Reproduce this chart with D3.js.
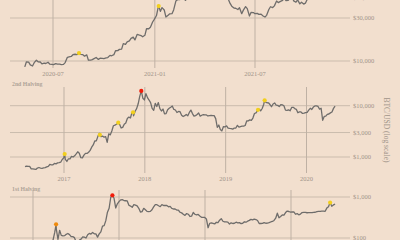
<!DOCTYPE html>
<html><head><meta charset="utf-8">
<script src="https://cdn.jsdelivr.net/npm/d3@7"></script>
<style>
html,body{margin:0;padding:0;background:#f2dfce;}
svg{display:block;}
</style></head>
<body>
<svg id="chart" width="400" height="240"></svg>
<script>
// ---------- DATA ----------
// Panel 1 (3rd halving): twice-weekly samples (Mon/Thu) starting 2020-05-11
const p1Start = "2020-05-11";
const p1Values = [8600,9800,9700,9050,8800,9580,10200,9800,9750,9300,9450,9380,9680,9250,9190,9100,9350,9250,9250,9130,9160,9600,11000,11100,11230,11750,11880,11760,12250,11850,11750,11320,11680,10200,10250,10350,10680,10950,10420,10740,10700,10620,10800,10930,11550,11430,11750,12990,13030,13460,13550,15590,15310,16300,16720,17800,18400,17150,19700,19450,19170,18550,19270,22800,22800,23700,27080,29000,31970,39400,35500,39150,36800,30800,32250,33400,33500,36900,46200,47900,47900,51600,54100,47000,49600,48400,52400,57300,56000,57600,54500,52300,57600,58700,58700,58000,59800,63200,55700,51700,54000,53500,56600,56400,55800,49700,43500,40600,38700,38500,37300,39000,33500,36700,40100,38100,31600,34700,34500,33500,33800,32900,33100,31800,30800,32100,37300,40000,39200,40900,46300,44400,45900,46700,49300,46900,47100,49300,51700,46400,44900,47700,43000,44900,42800,43800,49200];
// Panel 2 (2nd halving): weekly samples starting 2016-07-09
const p2Start = "2016-07-09";
const p2Values = [650,665,655,655,588,585,581,573,610,624,608,602,613,619,640,657,715,704,704,750,735,767,774,791,893,963,895,818,923,919,1030,1000,1055,1150,1265,1180,970,965,1085,1180,1175,1240,1345,1550,1720,2050,2060,2520,2890,2500,2560,2430,2500,1930,2830,2700,3220,4060,4190,4350,4580,4330,3680,3780,4340,4600,5650,6000,5750,7400,6360,7790,8750,10900,15200,19400,14000,12950,17170,14360,12900,11470,8870,8130,11100,9660,11500,8790,7890,8600,6930,7020,8330,8930,9350,9850,8470,8240,7360,7720,7620,6530,6160,6390,6740,6350,7400,8200,7030,6280,6400,6720,7200,6250,6520,6710,6630,6600,6300,6420,6480,6380,6400,5600,3800,4200,3420,3230,3920,3850,4050,3650,3600,3570,3500,3670,3670,4140,3830,3920,4000,3990,4110,5030,5070,5300,5190,5750,7040,7260,8050,8550,7950,8820,10700,11850,11420,11390,10530,9550,10820,11290,10230,10140,9630,10500,10360,9990,8200,8100,8320,7960,9250,9300,8800,8500,7300,7560,7550,7070,7140,7300,7410,8180,8900,8440,9390,9900,9930,9660,8560,8910,5200,6190,6240,6780,6890,7250,7550,8870,9800];
// Panel 3 (1st halving): weekly samples starting 2012-11-28
const p3Start = "2012-11-28";
const p3Values = [12.3,13.3,13.6,13.3,13.4,13.4,13.8,14.7,17.4,19.7,21,24.8,29.4,31,44,47,64,89,135,165,93,154,116,113,114,123,129,121,108,108,102,80,76,89,94,106,105,100,120,129,125,137,127,126,105,126,141,195,200,265,425,530,985,1100,930,540,680,770,850,860,820,810,800,630,600,560,650,635,605,530,430,440,530,490,445,440,445,490,575,655,650,610,580,650,620,620,620,575,590,530,510,510,480,480,425,410,380,355,395,380,335,340,420,380,365,375,345,320,320,317,292,178,228,233,227,220,242,237,272,296,256,247,247,245,219,235,226,229,243,234,237,225,229,249,243,257,269,285,277,289,282,267,226,226,228,238,229,231,236,246,253,268,304,403,311,334,366,360,417,454,443,427,431,432,380,395,368,382,417,424,423,413,416,418,415,422,425,442,447,446,452,453,448,536,580,730,595,640,670];

// Highlighted points
const p1DotDates = ["2020-08-17","2021-01-08"];
const p1DotValues = [12250,40700];
const p1DotKinds = ["high","high"];
const p2DotDates = ["2017-01-04","2017-06-12","2017-09-03","2017-11-09","2017-12-16","2019-05-27","2019-06-26"];
const p2DotValues = [1144,2700,4660,7430,19400,8300,12700];
const p2DotKinds = ["high","high","high","high","peak","high","high"];
const p3DotDates = ["2013-04-09","2013-12-04","2016-06-15"];
const p3DotValues = [215,1100,730];
const p3DotKinds = ["spike","peak","high"];

// Axis ticks (panel 3 labels fall below the visible area, so none are drawn)
const p1Ticks = ["2020-07-01","2021-01-01","2021-07-01"];
const p1TickLabels = ["2020-07","2021-01","2021-07"];
const p2Ticks = ["2017-01-01","2018-01-01","2019-01-01","2020-01-01"];
const p2TickLabels = ["2017","2018","2019","2020"];
const p3Ticks = ["2013-01-01","2014-01-01","2015-01-01","2016-01-01"];
const p3TickLabels = [];
const p1Grid = [10000,30000,50000];
const p2Grid = [1000,3000,10000];
const p3Grid = [100,1000];
const titles = ["", "2nd Halving", "1st Halving"];

// ---------- BUILD ----------
const parse = d3.utcParse("%Y-%m-%d");
const fmt = d3.format("$,");

function series(start, values, stepFn) {
  const s = parse(start);
  return values.map((v,i)=>({date: d3.utcDay.offset(s, stepFn(i)), value: v}));
}
function dots(dates, values, kinds){
  return dates.map((d,i)=>({date: parse(d), value: values[i], kind: kinds[i]}));
}

const panels = [
  { data: series(p1Start, p1Values, i=>Math.floor(i/2)*7 + (i%2)*3),
    dots: dots(p1DotDates,p1DotValues,p1DotKinds),
    x: d3.scaleUtc().domain([parse("2020-07-01"), parse("2021-07-01")]).range([53,255]),
    y: d3.scaleLog().domain([10000,30000]).range([61,18]),
    ticks: p1Ticks, tickLabels: p1TickLabels, grid: p1Grid,
    vTop: -5, vBottom: 68, labelY: 74, title: titles[0], titleY: 0 },
  { data: series(p2Start, p2Values, i=>i*7),
    dots: dots(p2DotDates,p2DotValues,p2DotKinds),
    x: d3.scaleUtc().domain([parse("2017-01-01"), parse("2020-01-01")]).range([64,306.5]),
    y: d3.scaleLog().domain([1000,10000]).range([157,105.7]),
    ticks: p2Ticks, tickLabels: p2TickLabels, grid: p2Grid,
    vTop: 87, vBottom: 173, labelY: 179, title: titles[1], titleY: 85.5 },
  { data: series(p3Start, p3Values, i=>i*7),
    dots: dots(p3DotDates,p3DotValues,p3DotKinds),
    x: d3.scaleUtc().domain([parse("2013-01-01"), parse("2016-01-01")]).range([33,291]),
    y: d3.scaleLog().domain([100,1000]).range([238,197]),
    ticks: p3Ticks, tickLabels: p3TickLabels, grid: p3Grid,
    vTop: 190, vBottom: 245, labelY: 266, title: titles[2], titleY: 190.5 }
];

const svg = d3.select("#chart");
svg.append("rect").attr("width",400).attr("height",240).attr("fill","#f2dfce");

const textColor = "#a19489";
const font = "'Liberation Serif', 'DejaVu Serif', serif";
const dotColor = {high:"#f2cf1d", peak:"#f01c0a", spike:"#ef8a0c"};

panels.forEach(p=>{
  const g = svg.append("g");
  g.selectAll("line.h").data(p.grid).join("line")
    .attr("x1",10).attr("x2",350)
    .attr("y1",d=>p.y(d)).attr("y2",d=>p.y(d))
    .attr("stroke","#cbbcad").attr("stroke-width",1);
  g.selectAll("text.yl").data(p.grid).join("text")
    .attr("x",353).attr("y",d=>p.y(d)).attr("dy","0.35em")
    .attr("font-family",font).attr("font-size",6.5).attr("fill",textColor)
    .text(d=>fmt(d));
  const tks = p.ticks.map(parse);
  g.selectAll("line.v").data(tks).join("line")
    .attr("x1",d=>p.x(d)).attr("x2",d=>p.x(d))
    .attr("y1",p.vTop).attr("y2",p.vBottom)
    .attr("stroke","#bfb1a4").attr("stroke-width",1);
  g.selectAll("text.xl").data(tks.filter((d,i)=>p.tickLabels[i])).join("text")
    .attr("x",d=>p.x(d)).attr("y",p.labelY).attr("dy","0.35em")
    .attr("text-anchor","middle")
    .attr("font-family",font).attr("font-size",6.5).attr("fill",textColor)
    .text((d,i)=>p.tickLabels[i]);
  const all = p.data.concat(p.dots.map(d=>({date:d.date,value:d.value})))
    .sort((a,b)=>a.date-b.date);
  g.append("path").datum(all)
    .attr("fill","none").attr("stroke","#6f6d6b").attr("stroke-width",1.3)
    .attr("stroke-linejoin","round")
    .attr("d", d3.line().x(d=>p.x(d.date)).y(d=>p.y(d.value)));
  g.selectAll("circle").data(p.dots).join("circle")
    .attr("cx",d=>p.x(d.date)).attr("cy",d=>p.y(d.value)).attr("r",2.1)
    .attr("fill",d=>dotColor[d.kind]);
  if (p.title) {
    g.append("text").attr("x",12).attr("y",p.titleY)
      .attr("font-family",font).attr("font-size",5.8).attr("font-weight","bold")
      .attr("fill","#b0a498").text(p.title);
  }
});

svg.append("text")
  .attr("transform","translate(384,130) rotate(90)")
  .attr("text-anchor","middle")
  .attr("font-family",font).attr("font-size",7.5).attr("fill",textColor)
  .text("BTC/USD (log scale)");
</script>
</body></html>
